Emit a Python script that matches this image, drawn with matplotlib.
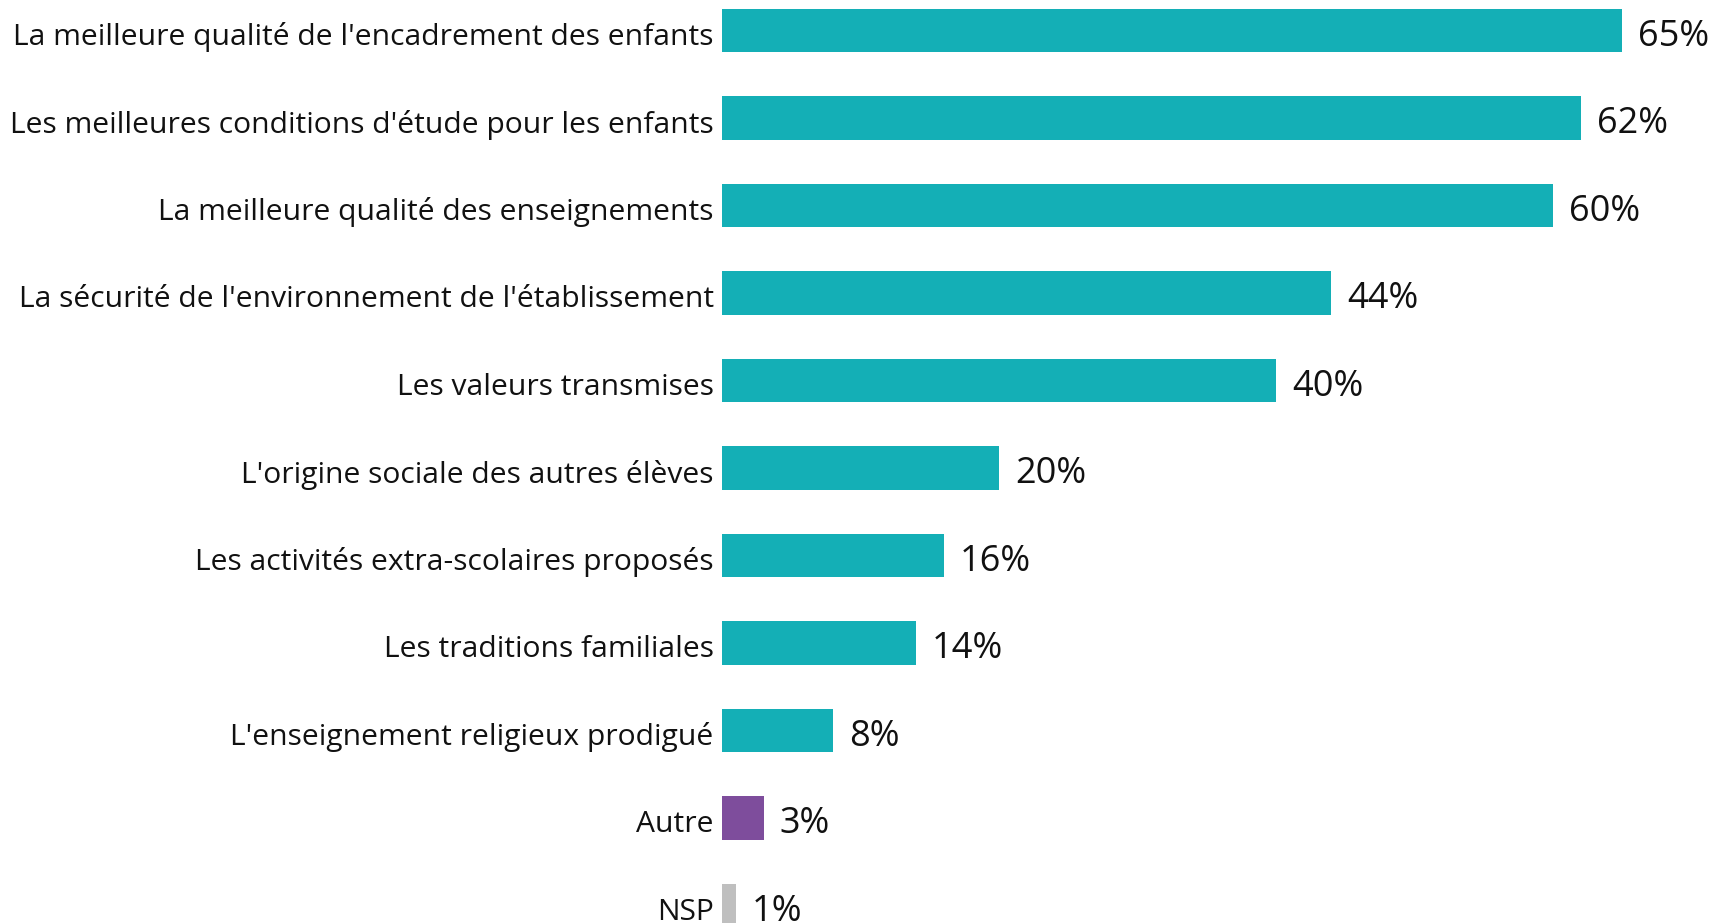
import matplotlib
matplotlib.use("Agg")
import matplotlib.pyplot as plt
import matplotlib.transforms as mtransforms

categories = [
    "La meilleure qualité de l'encadrement des enfants",
    "Les meilleures conditions d'étude pour les enfants",
    "La meilleure qualité des enseignements",
    "La sécurité de l'environnement de l'établissement",
    "Les valeurs transmises",
    "L'origine sociale des autres élèves",
    "Les activités extra-scolaires proposés",
    "Les traditions familiales",
    "L'enseignement religieux prodigué",
    "Autre",
    "NSP",
]
values = [65, 62, 60, 44, 40, 20, 16, 14, 8, 3, 1]
colors = ["#14AFB6"] * 9 + ["#7E4D9C", "#BFBFBF"]

plt.rcParams['font.family'] = ['Open Sans', 'DejaVu Sans']

W, H = 1713, 923
fig = plt.figure(figsize=(W / 100, H / 100), dpi=100)
left = 722 / W
ax = fig.add_axes([left, 0, 1 - left, 1])

pos = list(range(len(categories)))
ax.barh(pos, values, height=0.5, color=colors)
ax.set_ylim(10.2, -0.349)
ax.set_xlim(0, 71.55)

for p, v in zip(pos, values):
    ax.text(v + 1.15, p + 0.02, f"{v}%", va="center_baseline", ha="left", fontsize=26, color="#111111")

ax.set_yticks(pos)
ax.set_yticklabels(categories, fontsize=21.6, color="#111111", va="center_baseline")
ax.tick_params(axis="y", length=0, pad=6)
offset = mtransforms.ScaledTranslation(0, -3 / 100, fig.dpi_scale_trans)
for lab in ax.get_yticklabels():
    lab.set_transform(lab.get_transform() + offset)
ax.set_xticks([])
for s in ax.spines.values():
    s.set_visible(False)

fig.savefig("out.png", dpi=100)
